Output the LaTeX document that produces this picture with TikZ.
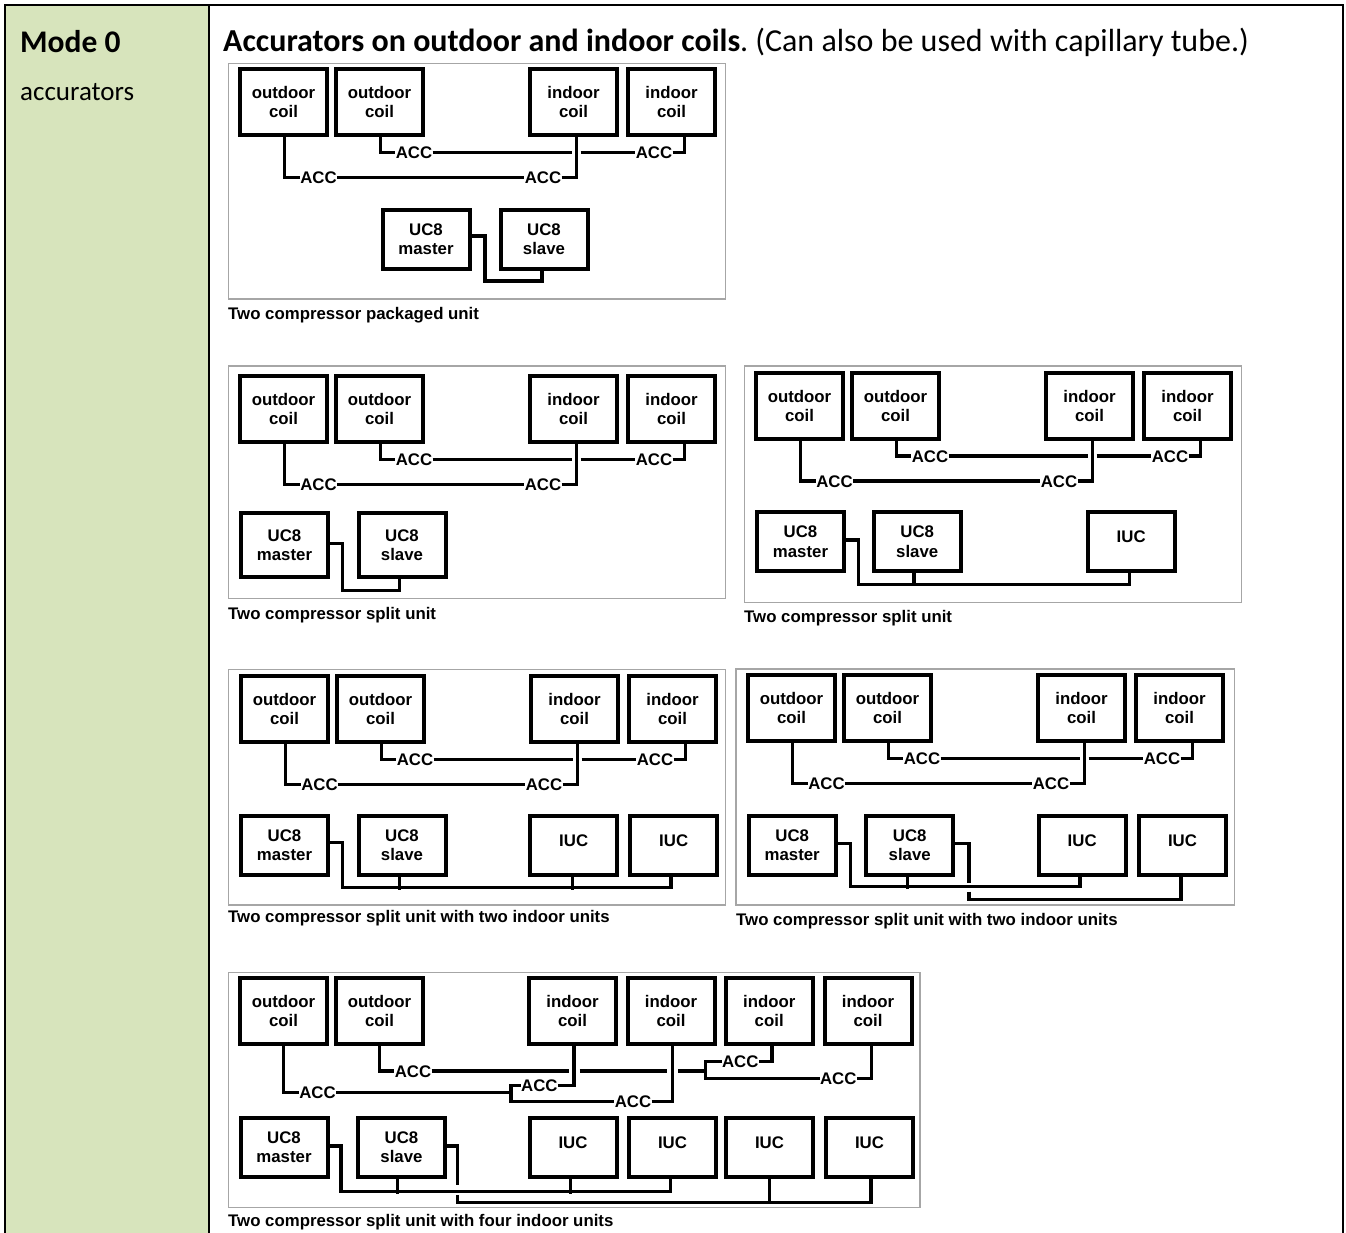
\documentclass[tikz,border=0pt]{standalone}
\usepackage{fontspec}
\newfontfamily\calfont{Carlito}
\newfontfamily\arfont{Liberation Sans}
\usetikzlibrary{calc}
\definecolor{modegreen}{HTML}{D7E4BC}
\definecolor{framegray}{HTML}{A6A6A6}
\frenchspacing
\tikzset{
 diag/.style={font=\arfont\bfseries\fontsize{16.8}{19.3}\selectfont},
 coilbox/.style={diag, draw, line width=4pt, minimum width=87pt, minimum height=66pt, inner sep=0pt, align=center},
 ctlbox/.style={diag, draw, line width=4pt, minimum width=87pt, minimum height=59pt, inner sep=0pt, align=center},
 iucbox/.style={ctlbox, text height=12pt, text depth=10pt},
 acclabel/.style={diag, inner xsep=0.3pt, inner ysep=0pt, text height=12pt, text depth=0pt},
 conn/.style={line width=3.3pt},
 panelframe/.style={draw=framegray, line width=1.3pt},
 caption/.style={diag, anchor=base west, inner sep=0pt},
}
\newcommand\coilrow[3]{%
\begin{scope}[shift={(#2,#3)}]
\node[coilbox] (#1oc1) at (45.5,35) {outdoor\\coil};
\node[coilbox] (#1oc2) at (141.5,35) {outdoor\\coil};
\node[coilbox] (#1ic1) at (335.5,35) {indoor\\coil};
\node[coilbox] (#1ic2) at (433.5,35) {indoor\\coil};
\node[acclabel] (#1u1) at (176,85.3) {ACC};
\node[acclabel] (#1u2) at (416,85.3) {ACC};
\node[acclabel] (#1l1) at (80.5,110.3) {ACC};
\node[acclabel] (#1l2) at (305,110.3) {ACC};
\coordinate (#1ga) at (334.3,85.3);
\coordinate (#1gb) at (342.7,85.3);
\end{scope}
\draw[conn] ([xshift=1pt]#1oc1.south) |- (#1l1.west);
\draw[conn] (#1l1.east) -- (#1l2.west);
\draw[conn] (#1l2.east) -| ([xshift=3pt]#1ic1.south);
\draw[conn] ([xshift=1pt]#1oc2.south) |- (#1u1.west);
\draw[conn] (#1u1.east) -- (#1ga);
\draw[conn] (#1gb) -- (#1u2.west);
\draw[conn] (#1u2.east) -| ([xshift=13pt]#1ic2.south);
}
\begin{document}
\begin{tikzpicture}[x=1pt,y=-1pt]
\useasboundingbox (0,0) rectangle (1346,1232);
% table
\fill[modegreen] (5,5) rectangle (208.7,1240);
\draw[line width=2.2pt] (5.2,1240) -- (5.2,5.2) -- (1342.8,5.2) -- (1342.8,1240);
\draw[line width=2.2pt] (208.7,5.2) -- (208.7,1240);
\node[anchor=base west, inner sep=0pt, font=\calfont\bfseries\fontsize{31.5}{36}\selectfont] (modetitle) at (20,52) {Mode 0};
\node[anchor=base west, inner sep=0pt, font=\calfont\fontsize{27}{31}\selectfont] (modedesc) at (20,100) {accurators};
\node[anchor=base west, inner sep=0pt, font=\calfont\fontsize{32}{36}\selectfont] (rowtitle) at (223,51.7) {\bfseries Accurators on outdoor and indoor coils\mdseries. (Can also be used with capillary tube.)};

% panel frames
\draw[panelframe] (228.3,63.3) rectangle (725.5,299);
\draw[panelframe] (228.3,366) rectangle (725.5,598.3);
\draw[panelframe] (744.3,366) rectangle (1241.7,602.3);
\draw[panelframe] (228.3,669.3) rectangle (725.5,905);
\draw[panelframe] (736,669) rectangle (1234.3,905);
\draw[panelframe] (228.3,972.3) rectangle (920,1207.7);

% panel 1
\coilrow{p1}{238}{67}
\node[ctlbox] (p1m) at (426,239) {UC8\\master};
\node[ctlbox] (p1s) at (544,239.5) {UC8\\slave};
\draw[conn] ([yshift=3pt]p1m.east) -- ++(13.5,0) -- ++(0,45) -| ([xshift=-2pt]p1s.south);
\node[caption] (cap1) at (228,319.5) {Two compressor packaged unit};

% panel 2
\coilrow{p2}{238}{374}
\node[ctlbox, minimum height=64pt] (p2m) at (284.5,545) {UC8\\master};
\node[ctlbox, minimum height=64pt] (p2s) at (402,545) {UC8\\slave};
\draw[conn] ([yshift=1.7pt]p2m.east) -- ++(12.7,0) -- ++(0,47.4) -| ([xshift=-2.7pt]p2s.south);
\node[caption] (cap2) at (228,619.5) {Two compressor split unit};

% panel 3
\coilrow{p3}{754}{370.7}
\node[ctlbox] (p3m) at (800.5,541.7) {UC8\\master};
\node[ctlbox] (p3s) at (917.2,541.7) {UC8\\slave};
\node[iucbox] (p3i) at (1131.2,541.7) {IUC};
\draw[conn] ([yshift=1.7pt]p3m.east) -- ++(12.7,0) -- ++(0,44.3) -| ([xshift=-2pt]p3i.south);
\draw[conn] ([xshift=-3.2pt]p3s.south) -- ++(0,13.1);
\node[caption] (cap3) at (744,622) {Two compressor split unit};

% panel 4
\coilrow{p4}{239}{674}
\node[ctlbox] (p4m) at (284.5,845) {UC8\\master};
\node[ctlbox] (p4s) at (402,845) {UC8\\slave};
\node[iucbox] (p4i1) at (573.7,845) {IUC};
\node[iucbox] (p4i2) at (673.7,845) {IUC};
\draw[conn] ([yshift=2.3pt]p4m.east) -- ++(12.7,0) -- ++(0,45) -| ([xshift=-2.7pt]p4i2.south);
\draw[conn] ([xshift=-2.7pt]p4s.south) -- ++(0,13.2);
\draw[conn] ([xshift=-1pt]p4i1.south) -- ++(0,13.2);
\node[caption] (cap4) at (228,922.5) {Two compressor split unit with two indoor units};

% panel 5
\coilrow{p5}{746}{673.3}
\node[ctlbox] (p5m) at (792.2,845.3) {UC8\\master};
\node[ctlbox] (p5s) at (909.7,845.3) {UC8\\slave};
\node[iucbox] (p5i1) at (1082.2,845.3) {IUC};
\node[iucbox] (p5i2) at (1182.5,845.3) {IUC};
\draw[conn] ([yshift=2pt]p5m.east) -- ++(12.6,0) -- ++(0,43.4) -| ([xshift=-2.2pt]p5i1.south);
\draw[conn] ([xshift=-2pt]p5s.south) -- ++(0,11.9);
\draw[conn] ([yshift=2pt]p5s.east) -- ++(13.7,0) -- ++(0,39.7) ++(0,8.7) -- ++(0,7.6) -| ([xshift=-1.5pt]p5i2.south);
\node[caption] (cap5) at (736,925) {Two compressor split unit with two indoor units};

% panel 6
\node[coilbox] (p6oc1) at (283.5,1011.3) {outdoor\\coil};
\node[coilbox] (p6oc2) at (379.5,1011.3) {outdoor\\coil};
\node[coilbox] (p6ic1) at (572.5,1011.3) {indoor\\coil};
\node[coilbox] (p6ic2) at (671,1011.3) {indoor\\coil};
\node[coilbox] (p6ic3) at (769.2,1011.3) {indoor\\coil};
\node[coilbox] (p6ic4) at (868,1011.3) {indoor\\coil};
\node[acclabel] (p6u1) at (413,1071) {ACC};
\node[acclabel] (p6u2) at (740.3,1061.7) {ACC};
\node[acclabel] (p6u3) at (838.3,1078.3) {ACC};
\node[acclabel] (p6l1) at (317.5,1092.7) {ACC};
\node[acclabel] (p6l2) at (539.4,1085.7) {ACC};
\node[acclabel] (p6l3) at (633,1101.7) {ACC};
\coordinate (p6ga) at (568.5,1071);
\coordinate (p6gb) at (579.5,1071);
\coordinate (p6gc) at (667.3,1071);
\coordinate (p6gd) at (678.3,1071);
\coordinate (p6uj) at (705.8,1071);
\coordinate (p6ub) at (705.8,1078.3);
\coordinate (p6lj) at (511.1,1092.7);
\coordinate (p6lb) at (511.1,1101.7);
\draw[conn] (p6oc2.south) |- (p6u1.west);
\draw[conn] (p6u1.east) -- (p6ga);
\draw[conn] (p6gb) -- (p6gc);
\draw[conn] (p6gd) -- (p6uj);
\draw[conn] (p6u2.west) -| (p6ub) -- (p6u3.west);
\draw[conn] (p6u2.east) -| ([xshift=2.8pt]p6ic3.south);
\draw[conn] (p6u3.east) -| ([xshift=3.5pt]p6ic4.south);
\draw[conn] (p6oc1.south) |- (p6l1.west);
\draw[conn] (p6l1.east) -- (p6lj);
\draw[conn] (p6l2.west) -| (p6lb) -- (p6l3.west);
\draw[conn] (p6l2.east) -| ([xshift=1.5pt]p6ic1.south);
\draw[conn] (p6l3.east) -| ([xshift=1.5pt]p6ic2.south);
\node[ctlbox] (p6m) at (284,1147.5) {UC8\\master};
\node[ctlbox] (p6s) at (401.5,1147.5) {UC8\\slave};
\node[iucbox] (p6i1) at (573,1147.5) {IUC};
\node[iucbox] (p6i2) at (672.5,1147.5) {IUC};
\node[iucbox] (p6i3) at (769.5,1147.5) {IUC};
\node[iucbox] (p6i4) at (869.5,1147.5) {IUC};
\draw[conn] ([yshift=1.5pt]p6m.east) -- ++(11.5,0) -- ++(0,45.7) -| ([xshift=-2pt]p6i2.south);
\draw[conn] ([xshift=-3.7pt]p6s.south) -- ++(0,14.7);
\draw[conn] ([xshift=-2.2pt]p6i1.south) -- ++(0,14.7);
\draw[conn] ([yshift=1.5pt]p6s.east) -- ++(10.4,0) -- ++(0,39) ++(0,10) -- ++(0,7.3) -| ([xshift=1.6pt]p6i4.south);
\draw[conn] ([xshift=-0.3pt]p6i3.south) -- ++(0,25.3);
\node[caption] (cap6) at (228,1226) {Two compressor split unit with four indoor units};
\end{tikzpicture}
\end{document}
